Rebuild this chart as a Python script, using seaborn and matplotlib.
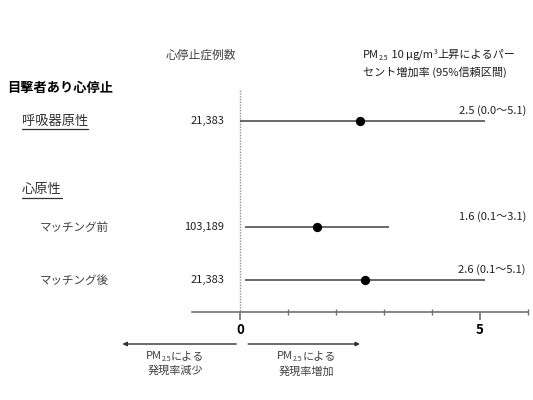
import matplotlib
matplotlib.use("Agg")
import matplotlib.pyplot as plt
import seaborn as sns
import pandas as pd
from matplotlib.ticker import FixedLocator, NullFormatter

sns.set_theme(style="white")
FAM = ['Noto Sans CJK JP', 'DejaVu Sans']
plt.rcParams['font.family'] = FAM

# ---- data ----
row_labels = ["呼吸器原性", "マッチング前", "マッチング後"]
case_counts = ["21,383", "103,189", "21,383"]
estimates = [2.5, 1.6, 2.6]
ci_low = [0.0, 0.1, 0.1]
ci_high = [5.1, 3.1, 5.1]
row_y = [121, 227, 280]          # vertical layout (pixels from top)
est_labels = ["2.5 (0.0～5.1)", "1.6 (0.1～3.1)", "2.6 (0.1～5.1)"]
major_ticks = [0, 5]
minor_ticks = [1, 2, 3, 4, 6]

df = pd.DataFrame({"label": row_labels, "n": case_counts, "est": estimates,
                   "lo": ci_low, "hi": ci_high, "y": row_y, "txt": est_labels})

W, H = 533, 400
fig = plt.figure(figsize=(W / 100, H / 100), dpi=100)
ax = fig.add_axes([0, 0, 1, 1])
ax.set_facecolor("white")
PX = 48.0
X0 = 240.0
ax.set_xlim(-X0 / PX, (W - X0) / PX)
ax.set_ylim(H, 0)

# CI lines and points
ax.hlines(df["y"], df["lo"], df["hi"], color="#404040", linewidth=1.1, zorder=2)
sns.scatterplot(data=df, x="est", y="y", ax=ax, color="black", s=45,
                edgecolor="black", linewidth=0, zorder=3, legend=False)
ax.set_xlabel("")
ax.set_ylabel("")

# dotted reference line
ax.vlines(0, 90, 312, color="#909090", linewidth=1.0, linestyles=(0, (1, 1)), zorder=1)

# axis
for s in ["top", "left", "right"]:
    ax.spines[s].set_visible(False)
ax.spines["bottom"].set_position(("data", 312))
ax.spines["bottom"].set_bounds(-1, 6)
ax.spines["bottom"].set_color("#707070")
ax.spines["bottom"].set_linewidth(1.2)
ax.xaxis.set_major_locator(FixedLocator(major_ticks))
ax.xaxis.set_minor_locator(FixedLocator(minor_ticks))
ax.xaxis.set_minor_formatter(NullFormatter())
ax.tick_params(axis="x", which="major", direction="out", length=6, width=1.2,
               color="#707070", labelsize=9.5, pad=2, bottom=True)
ax.tick_params(axis="x", which="minor", direction="inout", length=5, width=1.0,
               color="#707070", bottom=True)
for lab in ax.get_xticklabels():
    lab.set_fontweight("bold")
    lab.set_color("black")
ax.set_yticks([])
ax.grid(False)

# header texts
fig.text(166 / W, 1 - 55 / H, "心停止症例数", fontsize=8.5, color="#404040",
         va="center", ha="left", family=FAM)
fig.text(7 / W, 1 - 88 / H, "目撃者あり心停止", fontsize=9.5, fontweight="bold",
         color="black", va="center", ha="left", family=FAM)

renderer = fig.canvas.get_renderer()


def rich(x, ytop, pieces, color="#404040", ha="left"):
    """pieces: list of (text, size, dy_px). x, ytop in pixels from top-left."""
    y = H - ytop
    arts = []
    cur = x
    for txt, size, dy in pieces:
        t = fig.text(cur / W, (y + dy) / H, txt, fontsize=size, color=color,
                     va="center", ha="left", family=FAM)
        bb = t.get_window_extent(renderer)
        cur += bb.width
        arts.append(t)
    total = cur - x
    if ha == "center":
        shift = total / 2
        for t in arts:
            px, py = t.get_position()
            t.set_position((px - shift / W, py))
    return arts


def underline_text(x, ytop, txt, size):
    t = fig.text(x / W, 1 - ytop / H, txt, fontsize=size, color="#303030",
                 va="center", ha="left", family=FAM)
    bb = t.get_window_extent(renderer)
    yl = H - ytop - 8
    fig.add_artist(plt.Line2D([bb.x0 / W, bb.x1 / W], [yl / H, yl / H],
                              color="#303030", linewidth=0.9))


# header on right
rich(363, 55, [("PM", 8, 0), ("2.5", 5, -3), (" 10 ", 8, 0), ("μ", 8, 0),
               ("g/m", 8, 0), ("3", 5, 3), ("上昇によるパー", 8, 0)], color="#202020")
rich(363, 72, [("セント増加率 (95%信頼区間)", 8, 0)], color="#202020")

# section labels
underline_text(22, 121, row_labels[0], 9.5)
underline_text(22, 190, "心原性", 9.5)
for lab, yy in zip(row_labels[1:], row_y[1:]):
    fig.text(40 / W, 1 - yy / H, lab, fontsize=8.3, color="#404040",
             va="center", ha="left", family=FAM)

# counts and estimate text
for _, r in df.iterrows():
    fig.text(224 / W, 1 - r["y"] / H, r["n"], fontsize=8, color="#202020",
             va="center", ha="right", family=FAM)
    fig.text(526 / W, 1 - (r["y"] - 10) / H, r["txt"], fontsize=8, color="#202020",
             va="center", ha="right", family=FAM)

# direction arrows
ax.annotate("", xy=(-2.45, 344), xytext=(-0.08, 344),
            arrowprops=dict(arrowstyle="-|>", color="#303030", lw=1.0,
                            mutation_scale=6, shrinkA=0, shrinkB=0))
ax.annotate("", xy=(2.5, 344), xytext=(0.17, 344),
            arrowprops=dict(arrowstyle="-|>", color="#303030", lw=1.0,
                            mutation_scale=6, shrinkA=0, shrinkB=0))
rich(175, 356, [("PM", 8, 0), ("2.5", 5, -3), ("による", 8, 0)], ha="center")
rich(175, 371, [("発現率減少", 8, 0)], ha="center")
rich(306, 356, [("PM", 8, 0), ("2.5", 5, -3), ("による", 8, 0)], ha="center")
rich(306, 371, [("発現率増加", 8, 0)], ha="center")

fig.savefig("out.png", dpi=100, facecolor="white")
